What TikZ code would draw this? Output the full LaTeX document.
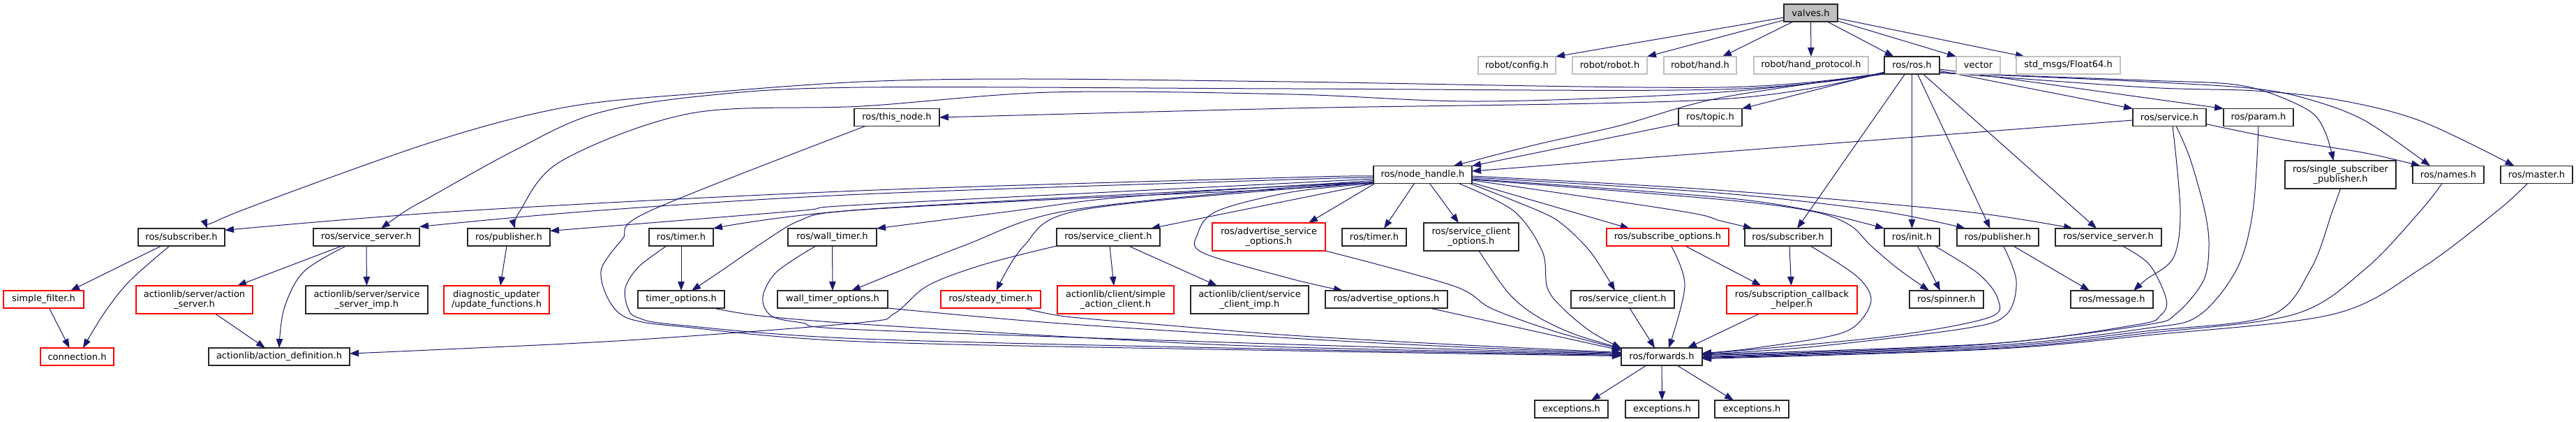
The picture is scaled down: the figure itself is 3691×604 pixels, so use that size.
\documentclass[tikz,border=0pt]{standalone}
\usepackage{fontspec}
\setmainfont{DejaVu Sans}
\usetikzlibrary{arrows.meta,calc}
\definecolor{mid}{HTML}{191970}
\definecolor{ext}{HTML}{BFBFBF}
\pgfdeclarelayer{edges}
\pgfsetlayers{edges,main}
\begin{document}
\begin{tikzpicture}[x=1pt,y=-1pt,
  box/.style={draw=black!85, line width=1.2pt, inner sep=0pt, outer sep=0pt, minimum height=25pt, font=\fontsize{13}{14.5}\selectfont, align=center, fill=white},
  redbox/.style={box, draw=red},
  extbox/.style={box, draw=ext},
  two/.style={minimum height=40pt},
  e/.style={draw=mid, line width=1pt, -{Triangle[length=13pt,width=9.5pt]}, line join=round},
  sm/.style={smooth, tension=0.55}
]
\useasboundingbox (0,0) rectangle (3691,604);
% row 0
\node[box, fill=ext, minimum width=77pt] (valves) at (2594.5,18.5) {valves.h};
% row 1
\node[extbox, minimum width=111pt] (config) at (2173.5,93.5) {robot/config.h};
\node[extbox, minimum width=107pt] (robotr) at (2306.5,93.5) {robot/robot.h};
\node[extbox, minimum width=104pt] (hand) at (2436,93.5) {robot/hand.h};
\node[extbox, minimum width=164pt] (protocol) at (2595,93.5) {robot/hand\_protocol.h};
\node[box, minimum width=79pt] (ros) at (2739.5,93.5) {ros/ros.h};
\node[extbox, minimum width=63pt] (vector) at (2834.5,93.5) {vector};
\node[extbox, minimum width=149pt] (float64) at (2963.5,93.5) {std\_msgs/Float64.h};
% row 2
\node[box, minimum width=122pt] (thisnode) at (1285,168) {ros/this\_node.h};
\node[box, minimum width=91pt] (topic) at (2450.5,168) {ros/topic.h};
\node[box, minimum width=105pt] (service) at (3108.5,168) {ros/service.h};
\node[box, minimum width=100pt] (param) at (3236,168) {ros/param.h};
\node[box, two, minimum width=159pt] (singlesub) at (3353.5,250) {ros/single\_subscriber\\\_publisher.h};
% row 3
\node[box, minimum width=141pt] (nh) at (2038.5,250) {ros/node\_handle.h};
\node[box, minimum width=102pt] (names) at (3508,250) {ros/names.h};
\node[box, minimum width=103pt] (master) at (3634.5,250) {ros/master.h};
% row 4
\node[box, minimum width=124pt] (subL) at (260,339.5) {ros/subscriber.h};
\node[box, minimum width=152pt] (ssL) at (525,339.5) {ros/service\_server.h};
\node[box, minimum width=118pt] (pubL) at (729,339.5) {ros/publisher.h};
\node[box, minimum width=92pt] (timerL) at (976,339.5) {ros/timer.h};
\node[box, minimum width=127pt] (walltimer) at (1192.5,339.5) {ros/wall\_timer.h};
\node[box, minimum width=148pt] (scL) at (1588,339.5) {ros/service\_client.h};
\node[redbox, two, minimum width=162pt] (aso) at (1818,339) {ros/advertise\_service\\\_options.h};
\node[box, minimum width=92pt] (timerR) at (1969,339.5) {ros/timer.h};
\node[box, two, minimum width=136pt] (sco) at (2108,339) {ros/service\_client\\\_options.h};
\node[redbox, minimum width=175pt] (subopt) at (2389.5,339.5) {ros/subscribe\_options.h};
\node[box, minimum width=124pt] (subR) at (2562,339.5) {ros/subscriber.h};
\node[box, minimum width=79pt] (init) at (2739.5,339.5) {ros/init.h};
\node[box, minimum width=117pt] (pubR) at (2862.5,339.5) {ros/publisher.h};
\node[box, minimum width=152pt] (ssR) at (3021,339.5) {ros/service\_server.h};
% row 5
\node[redbox, minimum width=115pt] (simplefilter) at (62.5,428.5) {simple\_filter.h};
\node[redbox, two, minimum width=167pt] (actionserver) at (278.5,429) {actionlib/server/action\\\_server.h};
\node[box, two, minimum width=175pt] (ssimp) at (525.5,429) {actionlib/server/service\\\_server\_imp.h};
\node[redbox, two, minimum width=151pt] (diag) at (711.5,429) {diagnostic\_updater\\/update\_functions.h};
\node[box, minimum width=124pt] (timeropt) at (976,428.5) {timer\_options.h};
\node[box, minimum width=158pt] (walltimeropt) at (1193,428.5) {wall\_timer\_options.h};
\node[redbox, minimum width=143pt] (steady) at (1419.5,428.5) {ros/steady\_timer.h};
\node[redbox, two, minimum width=167pt] (simpleac) at (1598.5,429) {actionlib/client/simple\\\_action\_client.h};
\node[box, two, minimum width=169pt] (scimp) at (1790.5,429) {actionlib/client/service\\\_client\_imp.h};
\node[box, minimum width=175pt] (advopt) at (1986.5,428.5) {ros/advertise\_options.h};
\node[box, minimum width=148pt] (scR) at (2325,428.5) {ros/service\_client.h};
\node[redbox, two, minimum width=187pt] (scbh) at (2567.5,429) {ros/subscription\_callback\\\_helper.h};
\node[box, minimum width=106pt] (spinner) at (2789,428.5) {ros/spinner.h};
\node[box, minimum width=118pt] (message) at (3026,428.5) {ros/message.h};
% row 6
\node[redbox, minimum width=105pt] (connection) at (110.5,510.5) {connection.h};
\node[box, minimum width=202pt] (actiondef) at (400,510.5) {actionlib/action\_definition.h};
\node[box, minimum width=116pt] (fwd) at (2381,510.5) {ros/forwards.h};
% row 7
\node[box, minimum width=105pt] (exc1) at (2251.5,585.5) {exceptions.h};
\node[box, minimum width=105pt] (exc2) at (2381.5,585.5) {exceptions.h};
\node[box, minimum width=106pt] (exc3) at (2510,585.5) {exceptions.h};

\begin{pgfonlayer}{edges}
% valves.h
\draw[e] (valves) -- (config.north east);
\draw[e] (valves) -- (robotr.north east);
\draw[e] (valves) -- ($(hand.north east)+(-20,0)$);
\draw[e] (valves) -- (protocol);
\draw[e] (valves) -- ($(ros.north)+(-26,0)$);
\draw[e] (valves) -- (vector.north west);
\draw[e] (valves) -- ($(float64.north west)+(12,0)$);
% ros.h
\draw[e] plot[sm] coordinates {($(ros.south west)+(0,-3)$) (2465,142) (1850,155) (thisnode.east)};
\draw[e] (ros) -- (topic.north east);
\draw[e] plot[sm] coordinates {($(ros.south west)+(0,-1)$) (2465,140) (2320,180) (2201,207) ($(nh.north)+(44,0)$)};
\draw[e] (ros) -- (service.north west);
\draw[e] (ros) -- (param.north west);
\draw[e] plot[sm] coordinates {($(ros.south east)+(0,-2)$) (3075,115) (3193,120) (3252,133) (3311,160) (3332,190) ($(singlesub.north)+(-10,0)$)};
\draw[e] plot[sm] coordinates {($(ros.south east)+(0,-2)$) (3075,117) (3232,127) (3311,143) (3389,173) ($(names.north)+(-26,0)$)};
\draw[e] plot[sm] coordinates {($(ros.south east)+(0,-2)$) (3075,125) (3232,130) (3350,143) (3468,173) ($(master.north)+(-32,0)$)};
\draw[e] plot[sm] coordinates {($(ros.south west)+(0,-2)$) (2465,125) (1850,117) (1467,113) (1235,117) (1010,133) (813,153) (620,203) (344,302) ($(subL.north east)+(-25,0)$)};
\draw[e] plot[sm] coordinates {($(ros.south west)+(0,-1)$) (2465,128) (1850,127) (1235,125) (1010,137) (852,163) (734,217) (620,280) (581,302) ($(ssL.north)+(21,0)$)};
\draw[e] plot[sm] coordinates {(ros.south west) (2465,132) (2122,145) (1850,135) (1507,132) (1235,152) (991,162) (805,230) (745,302) ($(pubL.north)+(9,0)$)};
\draw[e] ($(ros.south)+(-10,0)$) -- ($(subR.north)+(13,0)$);
\draw[e] (ros) -- (init);
\draw[e] ($(ros.south)+(8,0)$) -- ($(pubR.north)+(-11,0)$);
\draw[e] ($(ros.south)+(16,0)$) -- ($(ssR.north)+(-17,0)$);
% node_handle.h
\draw[e] plot[sm] coordinates {($(nh.west)+(0,2)$) (1850,254) (1230,273) (662,302) ($(subL.east)+(0,-10)$)};
\draw[e] plot[sm] coordinates {($(nh.west)+(0,4)$) (1850,257) (1235,278) (848,302) ($(ssL.east)+(0,-15)$)};
\draw[e] plot[sm] coordinates {($(nh.west)+(0,6)$) (1850,262) (1235,293) (1141,302) ($(pubL.east)+(0,-9)$)};
\draw[e] plot[sm] coordinates {($(nh.west)+(0,8)$) (1850,266) (1235,300) (timerL.north east)};
\draw[e] plot[sm] coordinates {($(nh.west)+(0,10)$) (1850,270) (1500,286) (1212,302) (1145,316) (1090,349) (1030,390) ($(timeropt.north)+(15,0)$)};
\draw[e] plot[sm] coordinates {($(nh.west)+(0,11)$) (1850,266) (1600,283) (1451,302) (walltimer.north east)};
\draw[e] plot[sm] coordinates {($(nh.west)+(0,12)$) (1850,268) (1527,302) (1380,352) ($(walltimeropt.north)+(27,0)$)};
\draw[e] plot[sm] coordinates {($(nh.south west)+(0,-1)$) (1850,270) (1542,302) (1467,352) ($(steady.north)+(8,0)$)};
\draw[e] (nh.south west) -- ($(scL.north east)+(-13,0)$);
\draw[e] plot[sm] coordinates {($(nh.south west)+(0,0)$) (1850,275) (1744,302) (1716,335) (1724,362) (1850,399) ($(advopt.north west)+(25,0)$)};
\draw[e] ($(nh.south west)+(2,0)$) -- ($(aso.north east)+(-24,0)$);
\draw[e] ($(nh.south)+(-12,0)$) -- ($(timerR.north)+(14,0)$);
\draw[e] ($(nh.south)+(10,0)$) -- ($(sco.north)+(-18,0)$);
\draw[e] plot[sm] coordinates {($(nh.south east)+(-19,0)$) (2169,302) (2210,360) (2217,412) (2240,442) (2280,475) ($(fwd.west)+(0,-12)$)};
\draw[e] plot[sm] coordinates {($(nh.south east)+(-3,0)$) (2205,302) (2240,322) (2280,362) ($(scR.north)+(-11,0)$)};
\draw[e] ($(nh.south east)+(0,-1)$) -- ($(subopt.north)+(-55,0)$);
\draw[e] plot[sm] coordinates {($(nh.east)+(0,8)$) (2407,302) (2465,316) ($(subR.north west)+(11,0)$)};
\draw[e] plot[sm] coordinates {($(nh.east)+(0,6)$) (2460,282) (2598,302) (init.north west)};
\draw[e] plot[sm] coordinates {($(nh.east)+(0,7)$) (2460,285) (2594,302) (2650,322) (2681,352) (2720,385) ($(spinner.north)+(-25,0)$)};
\draw[e] plot[sm] coordinates {($(nh.east)+(0,4)$) (2460,276) (2693,302) ($(pubR.north west)+(12,0)$)};
\draw[e] plot[sm] coordinates {($(nh.east)+(0,2)$) (2460,272) (2808,302) ($(ssR.north west)+(25,0)$)};
% row 2 sources
\draw[e] (topic) -- (nh.north east);
\draw[e] (service) -- ($(nh.east)+(0,-5)$);
\draw[e] plot[sm] coordinates {($(service.south east)+(0,-3)$) (3271,200) (3389,219) ($(names.north west)+(11,0)$)};
\draw[e] plot[sm] coordinates {($(service.south)+(4.5,0)$) (3124,302) (3114,369) (3075,400) ($(message.north east)+(-28,0)$)};
\draw[e] plot[sm] coordinates {($(service.south)+(9.5,0)$) (3138,227) (3159,302) (3165,352) (3157,402) (3118,449) (3075,465) (2855,492) (2600,504) ($(fwd.east)+(0,-2)$)};
\draw[e] plot[sm] coordinates {(param.south) (3228,302) (3205,385) (3150,452) (3075,470) (2850,495) (fwd.east)};
\draw[e] plot[sm] coordinates {(singlesub.south) (3342,302) (3311,385) (3252,452) (3075,474) (2850,497) ($(fwd.east)+(0,1)$)};
\draw[e] plot[sm] coordinates {($(names.south)+(-9,0)$) (3468,302) (3389,385) (3287,450) (3075,477) (2850,499) ($(fwd.east)+(0,2)$)};
\draw[e] plot[sm] coordinates {($(master.south)+(-13,0)$) (3578,302) (3468,385) (3342,450) (3075,480) (2850,500) ($(fwd.east)+(0,3)$)};
% row 4 right
\draw[e] plot[sm] coordinates {($(ssR.south)+(20,0)$) (3080,379) (3104,429) (3095,452) (3060,465) (2850,492) ($(fwd.east)+(0,-3)$)};
\draw[e] ($(pubR.south)+(22,0)$) -- ($(message.north west)+(27,0)$);
\draw[e] plot[sm] coordinates {($(pubR.south)+(8,0)$) (2889,402) (2875,450) (2816,470) (2600,496) ($(fwd.east)+(0,-3)$)};
\draw[e] ($(init.south)+(8,0)$) -- ($(spinner.north)+(-9,0)$);
\draw[e] plot[sm] coordinates {($(init.south east)+(-7,0)$) (2835,392) (2863,429) (2848,455) (2700,482) ($(fwd.east)+(0,-4)$)};
\draw[e] ($(subR.south)+(2,0)$) -- ($(scbh.north)+(-1,0)$);
\draw[e] plot[sm] coordinates {($(subR.south)+(32,0)$) (2660,395) (2681,429) (2660,465) (2618,482) (2500,500) ($(fwd.east)+(0,-5)$)};
\draw[e] ($(scbh.south west)+(47,0)$) -- ($(fwd.north east)+(-21,0)$);
\draw[e] ($(subopt.south)+(25,0)$) -- ($(scbh.north)+(-44,0)$);
\draw[e] plot[sm] coordinates {($(subopt.south)+(5,0)$) (2414,409) ($(fwd.north)+(10,0)$)};
\draw[e] ($(scR.south)+(10,0)$) -- ($(fwd.north)+(-10,0)$);
\draw[e] plot[sm] coordinates {(aso.south east) (2082,409) (2138,442) (2230,475) ($(fwd.west)+(0,-11)$)};
\draw[e] plot[sm] coordinates {($(sco.south)+(11,0)$) (2161,419) (2201,452) (2255,478) ($(fwd.west)+(0,-12)$)};
\draw[e] ($(advopt.south)+(62,0)$) -- ($(fwd.west)+(0,-9)$);
% left bundle to forwards
\draw[e] plot[sm] coordinates {($(steady.south)+(48,0)$) (1527,453) (1665,465) (1850,480) (2100,494) ($(fwd.west)+(0,-6)$)};
\draw[e] plot[sm] coordinates {($(timeropt.south east)+(-16,0)$) (1089,452) (1235,464) (1600,486) (1850,497) ($(fwd.west)+(0,-3)$)};
\draw[e] plot[sm] coordinates {(walltimeropt.south east) (1507,462) (1850,484) (2100,497) ($(fwd.west)+(0,-5)$)};
\draw[e] plot[sm] coordinates {($(timerL.south west)+(25,0)$) (915,382) (896,412) (900,442) (915,455) (971,465) (1235,485) (1850,500) ($(fwd.west)+(0,-2)$)};
\draw[e] plot[sm] coordinates {($(walltimer.south west)+(40,0)$) (1113,389) (1093,425) (1105,452) (1149,462) (1235,472) (1850,493) ($(fwd.west)+(0,-4)$)};
\draw[e] plot[sm] coordinates {($(thisnode.south west)+(16,0)$) (931,302) (892,342) (864,379) (862,402) (872,429) (888,449) (912,459) (971,467) (1235,489) (1850,502) ($(fwd.west)+(0,-1)$)};
% service_client (left)
\draw[e] ($(scL.south)+(2,0)$) -- ($(simpleac.north)+(-2.5,0)$);
\draw[e] ($(scL.south)+(29,0)$) -- ($(scimp.north)+(-46.5,0)$);
\draw[e] plot[sm] coordinates {(scL.south west) (1408,379) (1329,409) (1281,449) (1230,462) (900,487) (615,501) ($(actiondef.east)+(0,-4.5)$)};
% left part
\draw[e] ($(subL.south)+(-29,0)$) -- ($(simplefilter.north east)+(-19,0)$);
\draw[e] plot[sm] coordinates {($(subL.south)+(-17,0)$) (186,402) (150,447) ($(connection.north)+(8.5,0)$)};
\draw[e] ($(simplefilter.south)+(8,0)$) -- ($(connection.north)+(-11,0)$);
\draw[e] ($(ssL.south)+(-35,0)$) -- ($(actionserver.north east)+(-22,0)$);
\draw[e] plot[sm] coordinates {($(ssL.south)+(-29,0)$) (435,389) (407,442) (actiondef.north)};
\draw[e] (ssL) -- (ssimp);
\draw[e] ($(actionserver.south)+(30,0)$) -- ($(actiondef.north)+(-20,0)$);
\draw[e] ($(pubL.south)+(-3,0)$) -- ($(diag.north)+(5.5,0)$);
\draw[e] (timerL) -- (timeropt);
\draw[e] (walltimer) -- (walltimeropt);
% forwards
\draw[e] ($(fwd.south)+(-22,0)$) -- ($(exc1.north)+(28.5,0)$);
\draw[e] (fwd) -- (exc2);
\draw[e] ($(fwd.south)+(22,0)$) -- ($(exc3.north)+(-26,0)$);
\end{pgfonlayer}
\end{tikzpicture}
\end{document}
